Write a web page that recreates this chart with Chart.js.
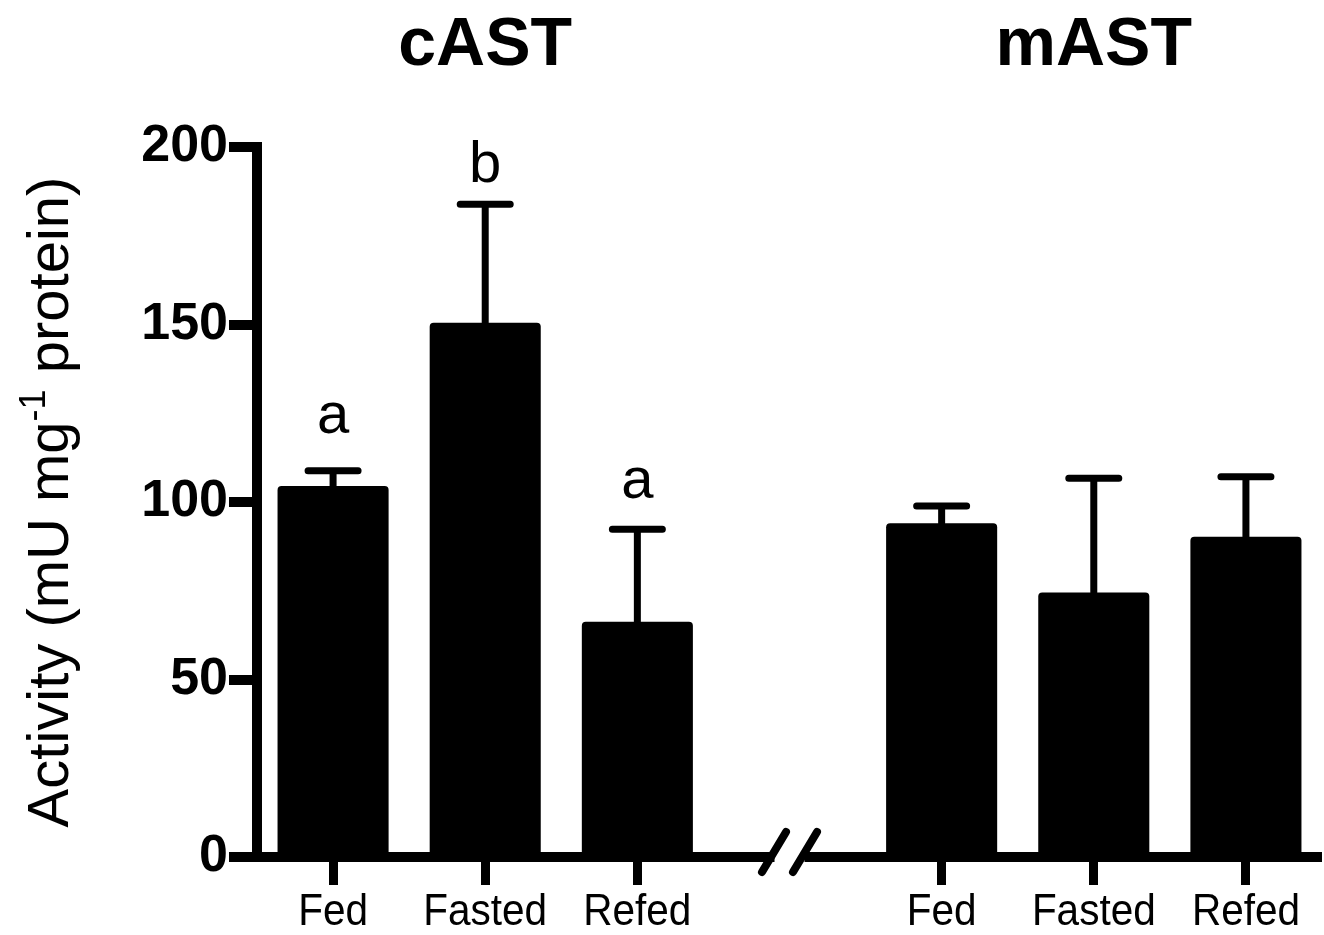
<!DOCTYPE html>
<html>
<head>
<meta charset="utf-8">
<script src="https://cdn.jsdelivr.net/npm/chart.js@4.4.1/dist/chart.umd.min.js"></script>
<style>
  html, body { margin: 0; padding: 0; background: #fff; }
  #wrap { width: 1324px; height: 935px; position: relative; }
</style>
</head>
<body>
<div id="wrap"><canvas id="astChart"></canvas></div>
<script>
  // one blank slot between the two groups holds the axis break
  const categories = ["Fed", "Fasted", "Refed", "", "Fed", "Fasted", "Refed"];
  const means = [104.5, 150.5, 66.3, null, 94.0, 74.5, 90.2];
  const sems = [4.3, 33.4, 26.0, null, 4.9, 32.2, 16.9];
  const letters = ["a", "b", "a", "", "", "", ""];
  const letterY = [119.4, 190.1, 101.1, null, null, null, null];
  const groupTitles = [["cAST", 1], ["mAST", 5]];
  const yTicks = [0, 50, 100, 150, 200];
  const BREAK_INDEX = 3;

  const FONT = '"Liberation Sans", Arial, Helvetica, sans-serif';

  const overlay = {
    id: "overlay",
    afterDraw(chart) {
      const ctx = chart.ctx;
      const xs = chart.scales.x;
      const ys = chart.scales.y;
      const area = chart.chartArea;
      ctx.save();
      ctx.strokeStyle = "#000";
      ctx.fillStyle = "#000";

      // error bars (upper only)
      ctx.lineCap = "round";
      ctx.lineWidth = 7;
      means.forEach((m, i) => {
        if (m == null || sems[i] == null) return;
        const cx = xs.getPixelForValue(i);
        const y0 = ys.getPixelForValue(m);
        const y1 = ys.getPixelForValue(m + sems[i]);
        ctx.beginPath();
        ctx.moveTo(cx, y0);
        ctx.lineTo(cx, y1);
        ctx.moveTo(cx - 25, y1);
        ctx.lineTo(cx + 25, y1);
        ctx.stroke();
      });

      // significance letters
      ctx.font = "58px " + FONT;
      ctx.textAlign = "center";
      ctx.textBaseline = "alphabetic";
      letters.forEach((t, i) => {
        if (!t) return;
        ctx.fillText(t, xs.getPixelForValue(i), ys.getPixelForValue(letterY[i]));
      });

      // category labels, slightly condensed like the original
      ctx.font = "45px " + FONT;
      categories.forEach((t, i) => {
        if (!t) return;
        ctx.save();
        ctx.translate(xs.getPixelForValue(i), area.bottom + 68);
        ctx.scale(0.9, 1);
        ctx.fillText(t, 0, 0);
        ctx.restore();
      });

      // y axis line
      ctx.lineCap = "butt";
      ctx.lineWidth = 10;
      ctx.beginPath();
      ctx.moveTo(area.left, area.top - 5);
      ctx.lineTo(area.left, area.bottom + 5);
      ctx.stroke();

      // broken x axis line
      const bx = xs.getPixelForValue(BREAK_INDEX);
      const by = area.bottom;
      ctx.beginPath();
      ctx.moveTo(area.left - 5, by);
      ctx.lineTo(bx - 15, by);
      ctx.moveTo(bx + 15, by);
      ctx.lineTo(area.right, by);
      ctx.stroke();
      ctx.lineCap = "round";
      ctx.lineWidth = 8;
      [-15.5, 15.5].forEach(off => {
        ctx.beginPath();
        ctx.moveTo(bx + off - 12, by + 15);
        ctx.lineTo(bx + off + 12, by - 25);
        ctx.stroke();
      });

      // group titles
      ctx.font = "bold 68px " + FONT;
      ctx.textAlign = "center";
      groupTitles.forEach(([t, i]) => {
        ctx.fillText(t, xs.getPixelForValue(i), 65);
      });

      // y axis title with superscript
      const big = "58px " + FONT;
      const small = "36px " + FONT;
      const parts = [
        ["Activity (mU mg", big, 0],
        ["-1", small, -23],
        [" protein)", big, 0],
      ];
      ctx.translate(68, (area.top + area.bottom) / 2);
      ctx.rotate(-Math.PI / 2);
      ctx.textAlign = "left";
      let total = 0;
      parts.forEach(p => {
        ctx.font = p[1];
        total += ctx.measureText(p[0]).width;
      });
      let pos = -total / 2;
      parts.forEach(p => {
        ctx.font = p[1];
        ctx.fillText(p[0], pos, p[2]);
        pos += ctx.measureText(p[0]).width;
      });
      ctx.restore();
    },
  };

  new Chart(document.getElementById("astChart"), {
    type: "bar",
    data: {
      labels: categories,
      datasets: [
        {
          data: means,
          backgroundColor: "#000",
          borderRadius: 4,
          barPercentage: 0.73,
          categoryPercentage: 1,
        },
      ],
    },
    options: {
      responsive: true,
      maintainAspectRatio: false,
      animation: false,
      events: [],
      layout: { padding: { top: 147, right: 2, bottom: 0, left: 0 } },
      plugins: {
        legend: { display: false },
        tooltip: { enabled: false },
        title: { display: false },
      },
      scales: {
        x: {
          offset: true,
          afterFit(scale) {
            scale.height = 78;
          },
          border: { display: false },
          grid: {
            offset: false,
            drawOnChartArea: false,
            drawTicks: true,
            tickLength: 28,
            lineWidth: 9,
            tickWidth: 9,
            tickColor: ctx => (ctx.index === BREAK_INDEX ? "rgba(0,0,0,0)" : "#000"),
          },
          ticks: {
            display: false,
            autoSkip: false,
          },
        },
        y: {
          min: 0,
          max: 200,
          afterFit(scale) {
            scale.width = 257;
          },
          afterBuildTicks(scale) {
            scale.ticks = yTicks.map(v => ({ value: v }));
          },
          border: { display: false },
          grid: {
            drawOnChartArea: false,
            drawTicks: true,
            tickLength: 28,
            lineWidth: 10,
            tickWidth: 10,
            tickColor: "#000",
          },
          ticks: {
            color: "#000",
            font: { family: FONT, size: 52, weight: "bold" },
            padding: 1,
          },
        },
      },
    },
    plugins: [overlay],
  });
</script>
</body>
</html>
